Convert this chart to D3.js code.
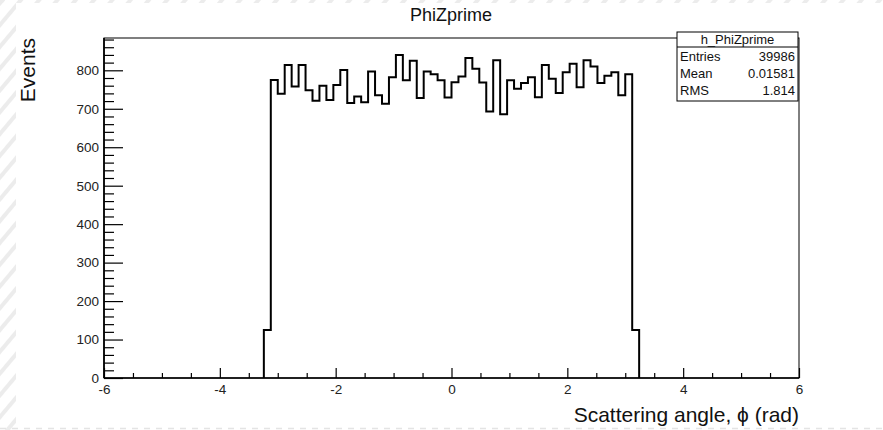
<!DOCTYPE html>
<html>
<head>
<meta charset="utf-8">
<script src="https://cdn.jsdelivr.net/npm/d3@7"></script>
<style>
  html, body { margin: 0; padding: 0; background: #fff; }
  svg { display: block; font-family: "Liberation Sans", Arial, Helvetica, sans-serif; }
</style>
</head>
<body>
<svg id="chart" width="883" height="430"></svg>
<script>
// ---- data ----
const chartTitle = "PhiZprime";
const histName = "h_PhiZprime";
const xAxisTitle = "Scattering angle, \u03D5 (rad)";
const yAxisTitle = "Events";
const xDomain = [-6, 6];
const yDomain = [0, 884];
const xMajorTicks = [-6, -4, -2, 0, 2, 4, 6];
const yMajorTicks = [0, 100, 200, 300, 400, 500, 600, 700, 800];
const binLow = -3.24;      // lower edge of the first filled bin
const binWidth = 0.12;     // 100 bins over [-6, 6]
const binCounts = [
  125,
  775, 739, 814, 758, 814, 748, 721, 760, 723, 762, 801, 715,
  732, 717, 797, 735, 713, 782, 840, 774, 825, 728, 797, 790, 774, 729,
  769, 784, 832, 804, 768, 693, 826, 686, 774, 752, 767, 782, 730, 814,
  778, 741, 795, 817, 756, 826, 810, 767, 786, 795, 735, 790,
  125
];
const statLabels = ["Entries", "Mean", "RMS"];
const statValues = ["39986", "0.01581", "1.814"];

// ---- layout ----
const W = 883, H = 430;
const frame = { left: 104, right: 799, top: 38, bottom: 378 };

const svg = d3.select("#chart");

// background decoration (page stripes + dashed line)
const defs = svg.append("defs");
const pat = defs.append("pattern")
  .attr("id", "stripes").attr("patternUnits", "userSpaceOnUse")
  .attr("width", 14).attr("height", 14)
  .attr("patternTransform", "rotate(40)");
pat.append("rect").attr("width", 4).attr("height", 14).attr("fill", "#ececec");
svg.append("rect").attr("x", 0).attr("y", 0).attr("width", 16).attr("height", H).attr("fill", "url(#stripes)");
svg.append("rect").attr("x", 0).attr("y", 0).attr("width", W).attr("height", 3).attr("fill", "url(#stripes)");
svg.append("line").attr("x1", 0).attr("x2", W).attr("y1", 428.5).attr("y2", 428.5)
  .attr("stroke", "#e4e4e4").attr("stroke-width", 1.5).attr("stroke-dasharray", "6,6");

const x = d3.scaleLinear().domain(xDomain).range([frame.left, frame.right]);
const y = d3.scaleLinear().domain(yDomain).range([frame.bottom, frame.top]);

// histogram outline
const pts = [];
binCounts.forEach((c, i) => {
  const lo = binLow + i * binWidth, hi = lo + binWidth;
  if (i === 0) pts.push([lo, 0]);
  pts.push([lo, c]);
  pts.push([hi, c]);
  if (i === binCounts.length - 1) pts.push([hi, 0]);
});
svg.append("path")
  .datum(pts)
  .attr("fill", "none")
  .attr("stroke", "#000")
  .attr("stroke-width", 2)
  .attr("stroke-linejoin", "miter")
  .attr("d", d3.line().x(d => x(d[0])).y(d => y(d[1])));

// frame
svg.append("rect")
  .attr("x", frame.left).attr("y", frame.top)
  .attr("width", frame.right - frame.left).attr("height", frame.bottom - frame.top)
  .attr("fill", "none").attr("stroke", "#000").attr("stroke-width", 1);

// x axis
const xMinor = d3.range(-6, 6.001, 0.5).filter(v => !xMajorTicks.some(m => Math.abs(m - v) < 1e-9));
const gx = svg.append("g").attr("transform", `translate(0,${frame.bottom})`);
gx.call(d3.axisBottom(x).tickValues(xMajorTicks).tickSizeInner(-10).tickSizeOuter(0).tickPadding(6)
  .tickFormat(d => d < 0 ? "-" + Math.abs(d) : String(d)));
const gxm = svg.append("g").attr("transform", `translate(0,${frame.bottom})`);
gxm.call(d3.axisBottom(x).tickValues(xMinor).tickSizeInner(-5).tickSizeOuter(0).tickFormat(""));
[gx, gxm].forEach(g => { g.select(".domain").remove(); g.selectAll("line").attr("stroke", "#000").attr("stroke-width", 1.2); });
gx.selectAll("text").attr("font-size", 13.5).attr("fill", "#222").attr("font-family", "Liberation Sans, Arial, sans-serif");

// y axis
const yMinor = d3.range(0, 881, 20).filter(v => v % 100 !== 0);
const gy = svg.append("g").attr("transform", `translate(${frame.left},0)`);
gy.call(d3.axisLeft(y).tickValues(yMajorTicks).tickSizeInner(-19).tickSizeOuter(0).tickPadding(5));
const gym = svg.append("g").attr("transform", `translate(${frame.left},0)`);
gym.call(d3.axisLeft(y).tickValues(yMinor).tickSizeInner(-10).tickSizeOuter(0).tickFormat(""));
[gy, gym].forEach(g => { g.select(".domain").remove(); g.selectAll("line").attr("stroke", "#000").attr("stroke-width", 1.2); });
gy.selectAll("text").attr("font-size", 13.5).attr("fill", "#222").attr("font-family", "Liberation Sans, Arial, sans-serif");

// axis lines (thicker)
svg.append("line").attr("x1", frame.left).attr("x2", frame.right).attr("y1", frame.bottom).attr("y2", frame.bottom)
  .attr("stroke", "#000").attr("stroke-width", 1.7);
svg.append("line").attr("x1", frame.left).attr("x2", frame.left).attr("y1", frame.top).attr("y2", frame.bottom)
  .attr("stroke", "#000").attr("stroke-width", 1.7);

// titles
svg.append("text").attr("x", 451).attr("y", 21).attr("text-anchor", "middle")
  .attr("font-size", 18).attr("fill", "#111").text(chartTitle);
svg.append("text").attr("transform", `translate(35,${frame.top}) rotate(-90)`).attr("text-anchor", "end")
  .attr("font-size", 21).attr("fill", "#111").text(yAxisTitle);
svg.append("text").attr("x", frame.right).attr("y", 422).attr("text-anchor", "end")
  .attr("font-size", 21).attr("fill", "#111").text(xAxisTitle);

// stats box
const box = { x: 677, y: 32, w: 121, h: 69, head: 15 };
const gs = svg.append("g");
gs.append("rect").attr("x", box.x).attr("y", box.y).attr("width", box.w).attr("height", box.h)
  .attr("fill", "#fff").attr("stroke", "#000").attr("stroke-width", 1);
gs.append("line").attr("x1", box.x).attr("x2", box.x + box.w).attr("y1", box.y + box.head).attr("y2", box.y + box.head)
  .attr("stroke", "#000").attr("stroke-width", 1);
gs.append("text").attr("x", box.x + box.w / 2).attr("y", box.y + 12).attr("text-anchor", "middle")
  .attr("font-size", 13).attr("fill", "#111").text(histName);
statLabels.forEach((lab, i) => {
  const by = 61 + i * 17;
  gs.append("text").attr("x", box.x + 3).attr("y", by).attr("font-size", 13).attr("fill", "#111").text(lab);
  gs.append("text").attr("x", box.x + box.w - 3).attr("y", by).attr("text-anchor", "end")
    .attr("font-size", 13).attr("fill", "#111").text(statValues[i]);
});
</script>
</body>
</html>
